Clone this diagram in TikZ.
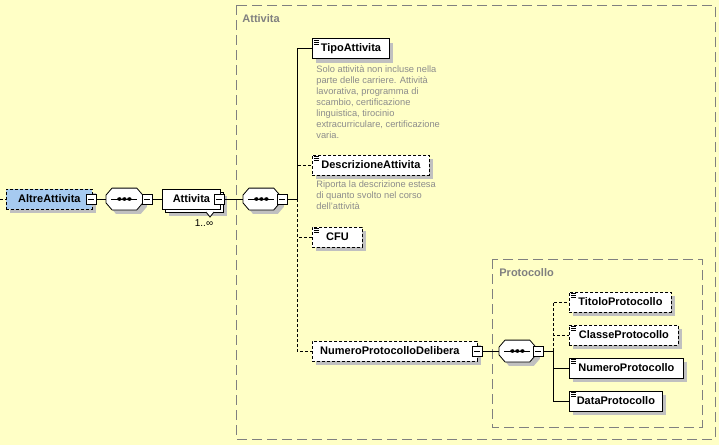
\documentclass[tikz,border=0pt]{standalone}
\usepackage{fontspec}
\setmainfont{Liberation Sans}
\usetikzlibrary{positioning, shadows}
\definecolor{bgyellow}{RGB}{255,255,198}
\definecolor{elemblue}{RGB}{166,202,240}
\definecolor{shadowgray}{RGB}{192,192,192}
\definecolor{docgray}{RGB}{140,140,140}
\definecolor{framegray}{RGB}{128,128,128}

\begin{document}
\begin{tikzpicture}[x=1pt,y=-1pt,line width=0.8pt,
  box/.style={draw, fill=white, minimum height=20pt, inner sep=0pt, anchor=west,
    font=\fontsize{11}{13}\selectfont\bfseries},
  shade/.style={drop shadow={shadow xshift=4pt,shadow yshift=-4pt,fill=shadowgray,opacity=1}},
  elem/.style={box, shade},
  opt/.style={elem, dash pattern=on 3pt off 2pt},
  optline/.style={dash pattern=on 3pt off 2pt},
  minusbox/.style={draw, fill=white, minimum size=10pt, inner sep=0pt,
    path picture={\draw (path picture bounding box.center) +(-3,0) -- +(3,0);}},
  seq/.style={minimum width=36pt, minimum height=21pt, inner sep=0pt, anchor=west},
  doc/.style={anchor=north west, align=left, text=docgray, inner sep=0pt,
    font=\fontsize{9.3}{11}\selectfont},
  frame/.style={draw=framegray, line width=1pt, dash pattern=on 10pt off 5pt},
  framelabel/.style={anchor=west, text=framegray, inner sep=0pt,
    font=\fontsize{11}{13}\selectfont\bfseries}]

\useasboundingbox (0,0) rectangle (719,445);
\fill[bgyellow] (0,0) rectangle (719,445);

% group frames
\draw[frame] (236,5) rectangle (715,439);
\node[framelabel] (lbl-att) at (242,19) {Attivita};
\draw[frame] (492,259) rectangle (702,427);
\node[framelabel] (lbl-prot) at (499,273) {Protocollo};

% root and first sequence
\coordinate (in) at (0,199);
\node[opt, fill=elemblue, minimum width=86pt] (altre) at (6,199) {AltreAttivita};
\node[seq] (seq1) at (106,199) {};

\node[elem, minimum width=58pt] (att-bk) at (165,202) {};
\node[box, minimum width=58pt] (att) at (162,199) {Attivita};
\draw[fill=white] (206,212) -- (210,217) -- (214,212);
\node[font=\fontsize{10}{12}\selectfont, inner sep=0pt] (att-card) at (204,223) {1..∞};

\node[seq] (seq2) at (243,199) {};
\coordinate (j1) at (297,199);

% children of Attivita
\node[elem, minimum width=77pt] (tipo) at (312,48.5) {TipoAttivita};
\node[doc] (tipo-doc) at (316,65) {Solo attività non incluse nella\\parte delle carriere. Attività\\lavorativa, programma di\\scambio, certificazione\\linguistica, tirocinio\\extracurriculare, certificazione\\varia.};
\node[opt, minimum width=117pt] (descr) at (312,165) {DescrizioneAttivita};
\node[doc] (descr-doc) at (316,180) {Riporta la descrizione estesa\\di quanto svolto nel corso\\dell'attività};
\node[opt, minimum width=50pt] (cfu) at (312,237) {CFU};
\node[opt, minimum width=165pt] (numdel) at (312,351) {NumeroProtocolloDelibera\hspace*{10pt}};

% Protocollo
\node[seq] (seq3) at (499,351) {};
\coordinate (j2) at (553,351);
\node[opt, minimum width=102pt] (titolo) at (569,302) {TitoloProtocollo};
\node[opt, minimum width=109pt] (classe) at (569,335) {ClasseProtocollo};
\node[elem, minimum width=114pt] (numero) at (569,368) {NumeroProtocollo};
\node[elem, minimum width=93pt] (data) at (569,401) {DataProtocollo};

% sequence octagons with their glyph
\foreach \s in {seq1,seq2,seq3} {
  \draw[fill=white, shade] ([xshift=6pt]\s.north west) -- ([xshift=-6pt]\s.north east)
    -- ([yshift=-7pt]\s.north east) -- ([yshift=7pt]\s.south east)
    -- ([xshift=-6pt]\s.south east) -- ([xshift=6pt]\s.south west)
    -- ([yshift=7pt]\s.south west) -- ([yshift=-7pt]\s.north west) -- cycle;
  \draw (\s.center) +(-13,0) -- +(13,0);
  \foreach \d in {-5,0,5}
    \fill ([xshift=\d pt]\s.center) ellipse (2.2 and 1.8);
}
\foreach \n in {tipo,descr,cfu,titolo,classe,numero,data}
  \foreach \k in {2,4,6}
    \draw[line width=0.6pt] ([shift={(2,\k)}]\n.north west) -- ++(5,0);

% collapse boxes
\node[minusbox] (altre-m) at (91,199) {};
\node[minusbox] (seq1-m) at (147,199) {};
\node[minusbox] (att-m) at (219,199) {};
\node[minusbox] (seq2-m) at (282,199) {};
\node[minusbox] (numdel-m) at (477,351) {};
\node[minusbox] (seq3-m) at (538,351) {};

% connectors
\draw[optline] (in) -- (altre.west);
\draw (altre-m) -- (seq1);
\draw (seq1-m) -- (att);
\draw (att-m) -- (seq2);
\draw (seq2-m) -- (j1);
\draw[optline] (j1) |- (descr.west);
\draw[optline] (j1) |- (cfu.west);
\draw[optline] (j1) |- (numdel.west);
\draw (j1) |- (tipo.west);
\draw (numdel-m) -- (seq3);
\draw (seq3-m) -- (j2);
\draw[optline] (j2) |- (titolo.west);
\draw[optline] (j2) |- (classe.west);
\draw (j2) |- (numero.west);
\draw (j2) |- (data.west);

\end{tikzpicture}
\end{document}
